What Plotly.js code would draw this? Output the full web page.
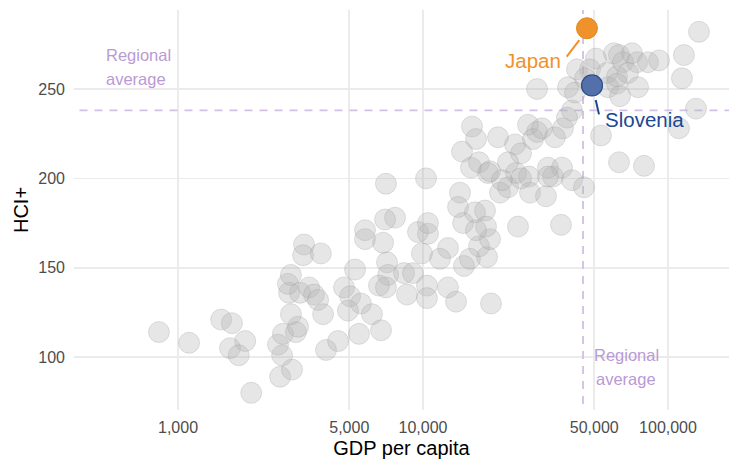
<!DOCTYPE html>
<html>
<head>
<meta charset="utf-8">
<script src="https://cdn.plot.ly/plotly-3.0.1.min.js"></script>
<style>html,body{margin:0;padding:0;background:#fff;}#chart{width:730px;height:459px;}</style>
</head>
<body>
<div id="chart"></div>
<script>
// ---- data ----
const gdpPerCapita = [836,1110,1500,1660,1880,1630,1770,1990,2610,2920,2660,2560,2680,3030,3090,2890,2840,3150,2810,2890,
  3430,3590,3730,3910,3270,3240,3830,4020,4500,5480,6740,4760,5040,5580,6190,4940,5280,5800,5800,6870,
  7130,7200,6610,7060,8600,8370,9100,10380,10380,12650,13640,18950,14700,15550,18250,16930,18770,12650,11730,9900,
  9540,10480,10480,7060,10290,7690,7000,14160,13900,14570,16300,17910,18080,16460,24420,36590,15700,16930,18420,20620,
  22230,23970,27080,27340,31770,33930,32370,36930,40560,45410,63100,79800,15850,16460,14430,20240,23750,25120,26830,29200,
  28120,30600,34570,37280,40560,38710,22230,18770,21010,25120,32370,29200,39070,41730,42520,48050,50830,56360,60190,63100,
  71320,65530,74740,82850,91900,61910,68660,56900,61910,75450,63700,53280,116200,133800,114000,130100,110900,45840];
const hciPlus = [114,108,121,119,109,105,101,80,89,93,101,107,113,114,117,124,136,136,141,146,
  139,135,132,124,163,157,158,104,109,113,115,139,134,130,124,126,149,171,166,164,
  153,146,140,139,135,147,147,140,133,139,131,130,151,155,156,162,166,161,155,158,
  170,169,175,197,200,178,177,192,184,175,181,182,173,171,173,174,206,209,203,192,
  195,203,201,192,190,201,206,206,199,195,209,207,229,222,215,223,219,214,230,226,
  222,228,223,228,238,234,209,204,199,200,201,250,251,248,261,261,267,259,270,269,
  270,265,265,265,266,257,259,251,253,251,246,224,269,282,256,239,228,256];
const highlightNames = ["Japan","Slovenia"];
const highlightGdp = [46700, 48960];
const highlightHci = [284, 252];
const regionalAvgGdp = 45000;
const regionalAvgHci = 238;
const xTickVals = [1000, 5000, 10000, 50000, 100000];
const xTickText = ["1,000", "5,000", "10,000", "50,000", "100,000"];
const yTickVals = [100, 150, 200, 250];

// ---- styling ----
const FONT = "Liberation Sans, Arial, sans-serif";
const AVG_TEXT = "#b99ad6";
const AVG_LINE = "#d3bfe6";
const ORANGE = "#f0922b";
const BLUE_TXT = "#1d4693";
const Y_RANGE = [70.4, 294.2];
const X_RANGE = [2.5755, 5.249];

const traces = [];
// regional average reference lines
traces.push({x:[regionalAvgGdp, regionalAvgGdp], y:[Y_RANGE[0]-5, Y_RANGE[1]+5], mode:'lines',
  line:{color:AVG_LINE, width:1.8, dash:'8px,7px'}, hoverinfo:'skip', showlegend:false, cliponaxis:true});
traces.push({x:[Math.pow(10,X_RANGE[0]-0.1), Math.pow(10,X_RANGE[1]+0.1)], y:[regionalAvgHci, regionalAvgHci], mode:'lines',
  line:{color:AVG_LINE, width:1.8, dash:'8px,7px'}, hoverinfo:'skip', showlegend:false, cliponaxis:true});
// all countries
traces.push({x:gdpPerCapita, y:hciPlus, mode:'markers', type:'scatter',
  marker:{size:21, color:'rgba(178,178,178,0.33)', line:{color:'rgba(150,150,150,0.28)', width:1}},
  hoverinfo:'skip', showlegend:false, cliponaxis:false});
// connectors (label leader lines)
traces.push({x:[38590, 43450], y:[268.1, 277.4], mode:'lines', line:{color:ORANGE, width:2}, hoverinfo:'skip', showlegend:false});
traces.push({x:[50690, 52290], y:[243.8, 235.8], mode:'lines', line:{color:BLUE_TXT, width:2}, hoverinfo:'skip', showlegend:false});
// highlighted
traces.push({x:[highlightGdp[0]], y:[highlightHci[0]], mode:'markers', marker:{size:21, color:ORANGE, line:{color:'#e08a1e', width:1}}, showlegend:false, cliponaxis:false});
traces.push({x:[highlightGdp[1]], y:[highlightHci[1]], mode:'markers', marker:{size:21, color:'#5470aa', line:{color:'#2c4c8c', width:1.2}}, showlegend:false, cliponaxis:false});

const L = Math.log10;
const annotations = [
  {x:L(500), y:269.0, xref:'x', yref:'y', text:'Regional', showarrow:false, xanchor:'left', yanchor:'middle', font:{family:FONT, size:16.5, color:AVG_TEXT}},
  {x:L(500), y:255.6, xref:'x', yref:'y', text:'average', showarrow:false, xanchor:'left', yanchor:'middle', font:{family:FONT, size:16.5, color:AVG_TEXT}},
  {x:L(67400), y:101.1, xref:'x', yref:'y', text:'Regional', showarrow:false, xanchor:'center', yanchor:'middle', font:{family:FONT, size:16.5, color:AVG_TEXT}},
  {x:L(67400), y:87.7, xref:'x', yref:'y', text:'average', showarrow:false, xanchor:'center', yanchor:'middle', font:{family:FONT, size:16.5, color:AVG_TEXT}},
  {x:L(37280), y:266.2, xref:'x', yref:'y', text:highlightNames[0], showarrow:false, xanchor:'right', yanchor:'middle', font:{family:FONT, size:20.5, color:ORANGE}},
  {x:L(54300), y:233.2, xref:'x', yref:'y', text:highlightNames[1], showarrow:false, xanchor:'left', yanchor:'middle', font:{family:FONT, size:20.5, color:BLUE_TXT}}
];

const layout = {
  width:730, height:459,
  margin:{l:74, r:1, t:10, b:49},
  paper_bgcolor:'#fff', plot_bgcolor:'#fff',
  font:{family:FONT},
  xaxis:{type:'log', range:X_RANGE, tickvals:xTickVals, ticktext:xTickText, showgrid:true, gridcolor:'#ebebeb', gridwidth:1.6,
    zeroline:false, showline:false, ticks:'', tickfont:{family:FONT, size:16, color:'#4d4d4d'}, ticklabelstandoff:6,
    title:{text:'GDP per capita', font:{family:FONT, size:20, color:'#000'}, standoff:5}, automargin:false},
  yaxis:{range:Y_RANGE, tickvals:yTickVals, showgrid:true, gridcolor:'#ebebeb', gridwidth:1.6,
    zeroline:false, showline:false, ticks:'', tickfont:{family:FONT, size:16, color:'#4d4d4d'}, ticklabelstandoff:8,
    title:{text:'HCI+', font:{family:FONT, size:20, color:'#000'}, standoff:4}, automargin:false},
  annotations:annotations,
  showlegend:false
};
Plotly.newPlot('chart', traces, layout, {staticPlot:true, displayModeBar:false});
</script>
</body>
</html>
